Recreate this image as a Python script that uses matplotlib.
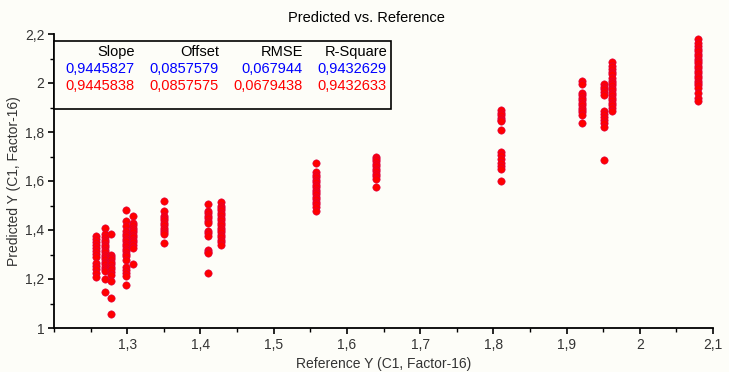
import matplotlib.pyplot as plt
from matplotlib.patches import Rectangle
from matplotlib.ticker import FuncFormatter, MultipleLocator

plt.rcParams['font.family'] = ['Liberation Sans', 'DejaVu Sans']

# reference value of each sample group and the predicted values in it
reference = [1.258, 1.269, 1.278, 1.299, 1.308, 1.35, 1.41, 1.428,
             1.558, 1.64, 1.81, 1.921, 1.951, 1.962, 2.08]
predicted = [
    [1.375, 1.362, 1.350, 1.340, 1.326, 1.313, 1.301, 1.290, 1.264, 1.252, 1.240, 1.223, 1.210],
    [1.41, 1.383, 1.37, 1.36, 1.35, 1.34, 1.33, 1.32, 1.31, 1.30, 1.29, 1.28, 1.27, 1.26,
     1.25, 1.24, 1.231, 1.198, 1.148],
    [1.383, 1.30, 1.29, 1.28, 1.27, 1.26, 1.25, 1.24, 1.23, 1.218, 1.19, 1.121, 1.059],
    [1.48, 1.435, 1.415, 1.394, 1.384, 1.374, 1.364, 1.354, 1.344, 1.334, 1.324, 1.314,
     1.304, 1.294, 1.279, 1.251, 1.238, 1.224, 1.211, 1.177],
    [1.458, 1.43, 1.42, 1.41, 1.40, 1.39, 1.38, 1.37, 1.36, 1.35, 1.34, 1.327, 1.26],
    [1.52, 1.478, 1.458, 1.45, 1.44, 1.43, 1.42, 1.41, 1.40, 1.39, 1.383, 1.348],
    [1.508, 1.478, 1.468, 1.458, 1.448, 1.438, 1.43, 1.396, 1.386, 1.375,
     1.32, 1.312, 1.305, 1.224],
    [1.513, 1.50, 1.49, 1.48, 1.47, 1.46, 1.45, 1.44, 1.43, 1.42, 1.41, 1.40, 1.39,
     1.38, 1.37, 1.36, 1.35, 1.34],
    [1.673, 1.636, 1.625, 1.615, 1.605, 1.595, 1.585, 1.575, 1.565, 1.555, 1.545,
     1.535, 1.525, 1.515, 1.505, 1.495, 1.478],
    [1.70, 1.69, 1.68, 1.67, 1.66, 1.65, 1.64, 1.63, 1.62, 1.609, 1.574],
    [1.888, 1.878, 1.868, 1.858, 1.848, 1.843, 1.808, 1.719, 1.705, 1.69, 1.675,
     1.66, 1.65, 1.602],
    [2.007, 1.994, 1.96, 1.95, 1.94, 1.93, 1.92, 1.91, 1.90, 1.89, 1.88, 1.87, 1.836],
    [1.994, 1.984, 1.974, 1.963, 1.953, 1.884, 1.872, 1.86, 1.848, 1.835, 1.822, 1.685],
    [2.085, 2.07, 2.056, 2.045, 2.035, 2.02, 2.01, 2.0, 1.99, 1.98, 1.97, 1.96, 1.95,
     1.94, 1.93, 1.92, 1.91, 1.9, 1.884],
    [2.179, 2.165, 2.15, 2.14, 2.13, 2.12, 2.11, 2.10, 2.09, 2.08, 2.07, 2.06, 2.05,
     2.04, 2.03, 2.02, 2.01, 2.0, 1.99, 1.98, 1.96, 1.94, 1.925],
]

stat_names = ['Slope', 'Offset', 'RMSE', 'R-Square']
stats_cal = ['0,9445827', '0,0857579', '0,067944', '0,9432629']
stats_val = ['0,9445838', '0,0857575', '0,0679438', '0,9432633']

W, H = 729, 372
fig = plt.figure(figsize=(W / 100, H / 100), dpi=100)
fig.patch.set_facecolor('#fdfdf8')
ax = fig.add_axes([54 / W, 1 - 328 / H, (713 - 54) / W, (328 - 34) / H])
ax.set_facecolor('#fdfdf8')

xs, ys = [], []
for r, vals in zip(reference, predicted):
    xs += [r] * len(vals)
    ys += vals
ax.scatter(xs, ys, s=28, color='#ff0000', edgecolors='#d8004a',
           linewidths=0.4, zorder=3)

ax.set_xlim(1.2, 2.1)
ax.set_ylim(1.0, 2.2)
ax.set_xticks([1.3, 1.4, 1.5, 1.6, 1.7, 1.8, 1.9, 2.0, 2.1])
ax.xaxis.set_minor_locator(MultipleLocator(0.05))
ax.yaxis.set_major_locator(MultipleLocator(0.2))
ax.yaxis.set_minor_locator(MultipleLocator(0.1))

def comma(v, pos):
    s = ('%.1f' % v).rstrip('0').rstrip('.')
    return s.replace('.', ',')

ax.xaxis.set_major_formatter(FuncFormatter(comma))
ax.yaxis.set_major_formatter(FuncFormatter(comma))

for side in ['top', 'right']:
    ax.spines[side].set_visible(False)
for side in ['left', 'bottom']:
    ax.spines[side].set_linewidth(1.3)
ax.tick_params(which='major', direction='out', length=4, width=1.2,
               labelsize=10, colors='black', pad=3)
ax.tick_params(which='minor', direction='out', length=3, width=1.0)
ax.tick_params(axis='x', labelcolor='#333333')
ax.tick_params(axis='y', labelcolor='#333333')

ax.set_xlabel('Reference Y (C1, Factor-16)', fontsize=10, color='#333333', labelpad=4)
ax.set_ylabel('Predicted Y (C1, Factor-16)', fontsize=10, color='#333333', labelpad=3)

fig.text(366 / W, 1 - 18 / H, 'Predicted vs. Reference', ha='center', va='center',
         fontsize=10.5, color='black')

# statistics box
fig.patches.append(Rectangle((54 / W, 1 - 109 / H), (391 - 54) / W, (109 - 41) / H,
                             transform=fig.transFigure, facecolor='#fdfdf8',
                             edgecolor='black', linewidth=1.2, zorder=5))
col_right = [135, 219, 303, 387]
for i, xr in enumerate(col_right):
    fig.text(xr / W, 1 - 52 / H, stat_names[i], ha='right', va='center',
             fontsize=10.5, color='black', zorder=6)
    fig.text(xr / W, 1 - 69 / H, stats_cal[i], ha='right', va='center',
             fontsize=10.5, color='#0000ff', zorder=6)
    fig.text(xr / W, 1 - 86.5 / H, stats_val[i], ha='right', va='center',
             fontsize=10.5, color='#ff0000', zorder=6)

fig.savefig('out.png', dpi=100, facecolor=fig.get_facecolor())
